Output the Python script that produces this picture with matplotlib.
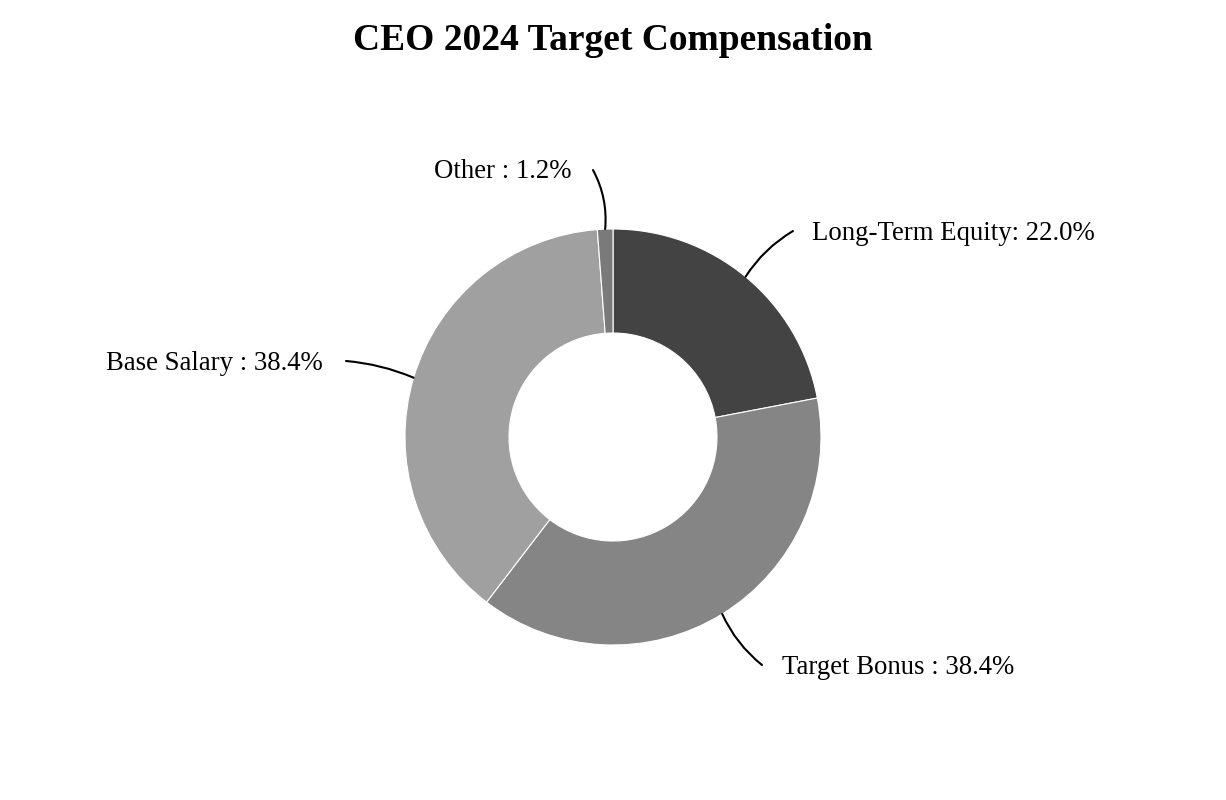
import matplotlib.pyplot as plt
import numpy as np

# slices, clockwise from 12 o'clock
labels = ['Long-Term Equity', 'Target Bonus ', 'Base Salary ', 'Other ']
values = [22.0, 38.4, 38.4, 1.2]
colors = ['#434343', '#858585', '#a0a0a0', '#7a7a7a']

plt.rcParams['font.family'] = ['Liberation Serif', 'DejaVu Serif']

fig = plt.figure(figsize=(12.26, 8), dpi=100)
ax = fig.add_axes([0, 0, 1, 1])

cx, cy, R = 613, 800 - 437, 208
wedges, _ = ax.pie(values, colors=colors, startangle=90, counterclock=False,
                   radius=R, center=(cx, cy),
                   wedgeprops=dict(width=R * 0.5, edgecolor='white', linewidth=0.8))
ax.set_xlim(0, 1226)
ax.set_ylim(0, 800)
ax.set_aspect('equal')
ax.axis('off')

# label placement: (line start x, y, text x, ha, rad)
place = [
    (793, 800 - 231, 812, 'left', 0.12),
    (762, 800 - 665, 782, 'left', -0.12),
    (346, 800 - 361, 323, 'right', -0.08),
    (593, 800 - 170, 571, 'right', -0.15),
]

for w, lab, v, (lx, ly, tx, ha, rad) in zip(wedges, labels, values, place):
    ang = np.deg2rad((w.theta1 + w.theta2) / 2)
    px, py = cx + R * np.cos(ang), cy + R * np.sin(ang)
    ax.annotate('', xy=(px, py), xytext=(lx, ly),
                arrowprops=dict(arrowstyle='-', color='black', lw=1.5,
                                shrinkA=0, shrinkB=0,
                                connectionstyle=f'arc3,rad={rad}'))
    ax.text(tx, ly - 2, f'{lab}: {v:.1f}%', ha=ha, va='center', fontsize=19.3)

fig.text(0.5, 1 - 40 / 800, 'CEO 2024 Target Compensation', ha='center',
         va='center', fontsize=27, fontweight='bold')

fig.savefig('out.png', dpi=100)
